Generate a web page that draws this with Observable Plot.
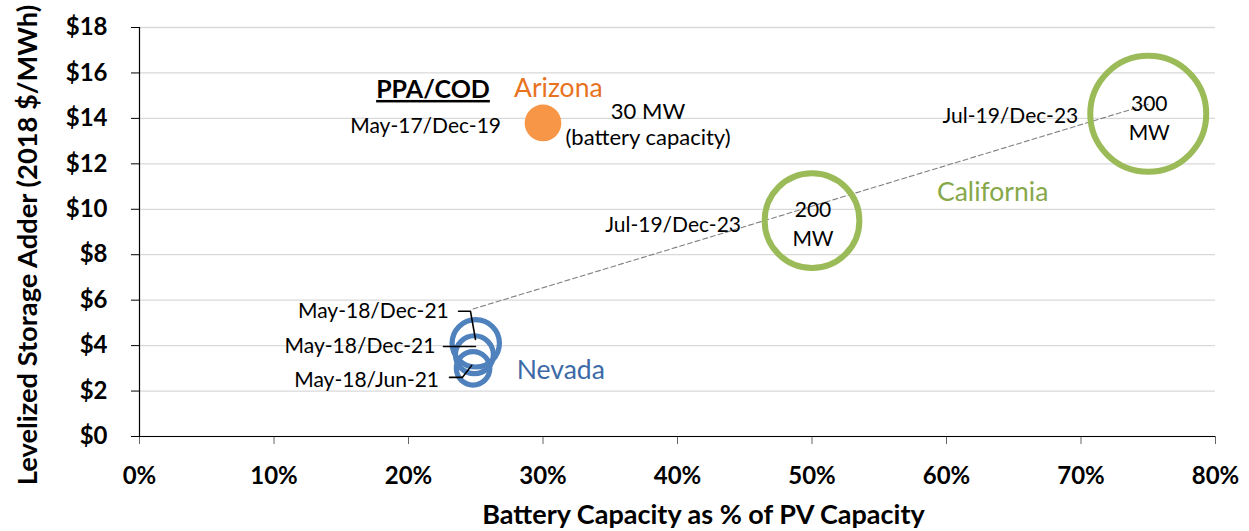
<!DOCTYPE html>
<html>
<head>
<meta charset="utf-8">
<script src="https://cdn.jsdelivr.net/npm/d3@7"></script>
<script src="https://cdn.jsdelivr.net/npm/@observablehq/plot@0.6"></script>
<style>
  html, body { margin: 0; padding: 0; background: #fff; }
  #chart svg { display: block; }
</style>
</head>
<body>
<div id="chart"></div>
<script>
// ---- Data ----
const states     = ["Arizona", "Nevada", "Nevada", "Nevada", "California", "California"];
const batteryPct = [30, 25, 24.9, 24.8, 50, 75];          // battery capacity as % of PV capacity
const adder      = [13.8, 4.1, 3.6, 3.0, 9.5, 14.2];       // levelized storage adder, 2018 $/MWh
const batteryMW  = [30, 50, 32, 25, 200, 300];             // battery capacity (bubble size)
const ppaCod     = ["May-17/Dec-19", "May-18/Dec-21", "May-18/Dec-21", "May-18/Jun-21", "Jul-19/Dec-23", "Jul-19/Dec-23"];
const xTicks     = [0, 10, 20, 30, 40, 50, 60, 70, 80];
const yTicks     = [0, 2, 4, 6, 8, 10, 12, 14, 16, 18];

const rows = states.map((s, i) => ({state: s, x: batteryPct[i], y: adder[i], mw: batteryMW[i], date: ppaCod[i], i}));

// ---- Layout / style (not data) ----
const FONT = "Lato, 'Open Sans', sans-serif";
const colors = {Arizona: "#F79646", Nevada: "#4F81BD", California: "#9BBB59"};
const textColors = {Arizona: "#E8731F", Nevada: "#3D6AA6", California: "#86A84A"};
// date-label offsets (px) relative to each bubble
const dateOffsets = [
  {dx: -42, dy: 3},
  {dx: -27, dy: -32},
  {dx: -39, dy: -8},
  {dx: -34, dy: 12},
  {dx: -71, dy: 5},
  {dx: -70, dy: 2}
];
// leader-line bends, as offsets (data units) from each Nevada bubble
const leaderBends = {
  1: [[-1.28, 1.41], [-0.39, 1.41], [-0.02, 0.17]],
  2: [[-2.3, 0.36], [0.08, 0.36]],
  3: [[-1.75, -0.4], [-0.8, -0.4], [-0.1, 0.13]]
};
const leaders = [];
for (const [k, bends] of Object.entries(leaderBends)) {
  const r = rows[+k];
  bends.forEach(([ox, oy]) => leaders.push({id: k, x: r.x + ox, y: r.y + oy}));
}

const az = rows.filter(d => d.state === "Arizona");
const nv = rows.filter(d => d.state === "Nevada");
const ca = rows.filter(d => d.state === "California");

const plot = Plot.plot({
  width: 1249,
  height: 531,
  marginLeft: 139,
  marginRight: 34,
  marginTop: 27,
  marginBottom: 95,
  style: {fontFamily: FONT, background: "#fff", color: "#000", overflow: "visible"},
  x: {domain: [0, 80]},
  y: {domain: [0, 18]},
  r: {type: "sqrt", domain: [0, 300], range: [0, 58]},
  marks: [
    Plot.gridY(yTicks, {stroke: "#D9D9D9", strokeOpacity: 1, strokeWidth: 1.3}),
    Plot.axisY(yTicks, {
      tickFormat: d => "$" + d, tickSize: 8, tickPadding: 24,
      fontSize: 24, fontWeight: "bold", stroke: "#000", label: null
    }),
    Plot.axisX(xTicks, {
      tickFormat: d => d + "%", tickSize: 8, tickPadding: 22,
      fontSize: 24, fontWeight: "bold", stroke: "#666", label: null
    }),
    Plot.ruleX([0], {stroke: "#000", strokeWidth: 1.2}),
    Plot.ruleY([0], {stroke: "#000", strokeWidth: 1.2}),
    // axis titles
    Plot.text(["Levelized Storage Adder (2018 $/MWh)"], {
      frameAnchor: "left", textAnchor: "middle", lineAnchor: "middle",
      dx: -111, dy: 13, rotate: -90, text: d => d,
      fontSize: 27.3, fontWeight: "bold", fill: "#000"
    }),
    Plot.text(["Battery Capacity as % of PV Capacity"], {
      frameAnchor: "bottom", textAnchor: "middle", lineAnchor: "middle",
      dx: 26, dy: 79, text: d => d,
      fontSize: 27, fontWeight: "bold", fill: "#000"
    }),
    // trend line
    Plot.linearRegressionY(rows, {x: "x", y: "y", stroke: "#808080", strokeWidth: 1.1, strokeDasharray: "5,3", ci: 0}),
    // bubbles
    Plot.dot(az, {x: "x", y: "y", r: "mw", fill: colors.Arizona, stroke: "none"}),
    Plot.dot(nv, {x: "x", y: "y", r: "mw", fill: "none", stroke: colors.Nevada, strokeWidth: 5.2}),
    Plot.dot(ca, {x: "x", y: "y", r: "mw", fill: "none", stroke: colors.California, strokeWidth: 6}),
    // leaders
    Plot.line(leaders, {x: "x", y: "y", z: "id", stroke: "#000", strokeWidth: 1.6}),
    // date labels
    ...rows.map((r, i) => Plot.text([r], {
      x: "x", y: "y", text: "date", dx: dateOffsets[i].dx, dy: dateOffsets[i].dy,
      textAnchor: "end", fontSize: 21, fill: "#000"
    })),
    // capacity labels
    Plot.text(az, {x: "x", y: "y", text: d => d.mw + " MW\n(battery capacity)", dx: 105, dy: 1, fontSize: 22, lineHeight: 1.18, fill: "#000"}),
    Plot.text(ca, {x: "x", y: "y", text: d => d.mw + "\nMW", dx: 1, dy: 2, fontSize: 21, lineHeight: 1.38, fill: "#000"}),
    // header
    Plot.text(az, {x: "x", y: "y", text: () => "PPA/COD", dx: -110, dy: -33, fontSize: 25, fontWeight: "bold", fill: "#000"}),
    // state labels
    Plot.text(az, {x: "x", y: "y", text: "state", dx: -29, dy: -34, textAnchor: "start", fontSize: 26.5, fill: textColors.Arizona}),
    Plot.text(nv.slice(0, 1), {x: "x", y: "y", text: "state", dx: 41, dy: 27, textAnchor: "start", fontSize: 26.5, fill: textColors.Nevada}),
    Plot.text(ca.slice(0, 1), {x: "x", y: "y", text: "state", dx: 125, dy: -28, textAnchor: "start", fontSize: 26.5, fill: textColors.California})
  ]
});

document.getElementById("chart").appendChild(plot);
d3.select(plot).selectAll("text").filter(function() { return this.textContent === "PPA/COD"; })
  .style("text-decoration", "underline");
</script>
</body>
</html>
